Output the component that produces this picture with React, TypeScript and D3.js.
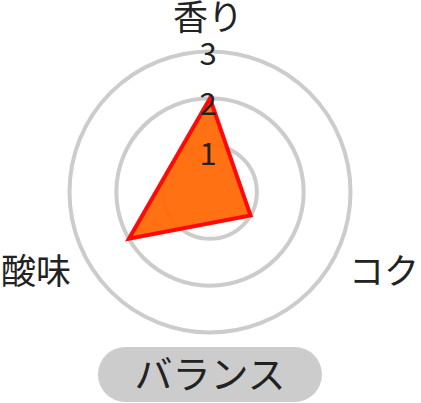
import React from 'react';
import * as d3 from 'd3';

// radar axes (clockwise from top) and their scores
const axes = ['香り', 'コク', '酸味'];
const scores = [2, 1, 2];
const ticks = [1, 2, 3];
const tabLabel = 'バランス';

const W = 421;
const H = 403;
const cx = 210;
const cy = 192;
const FONT = '"Noto Sans CJK JP", "Noto Sans", sans-serif';

const App: React.FC = () => {
  const r = d3.scaleLinear().domain([0, 3]).range([0, 140.5]);
  const angle = d3.scaleLinear().domain([0, axes.length]).range([-Math.PI / 2, Math.PI * 1.5]);
  // tick numbers sit a little below each ring top, spaced slightly wider than the rings
  const tickY = d3.scaleLinear().domain([0, 3]).range([cy + 23, cy - 127]);

  const pt = (i: number, v: number): [number, number] => [
    cx + r(v) * Math.cos(angle(i)),
    cy + r(v) * Math.sin(angle(i)),
  ];

  const poly = d3.line()(scores.map((v, i) => pt(i, v))) + 'Z';

  const labelR = 164;

  return (
    <svg width={W} height={H} style={{ position: 'absolute', left: 0, top: 0 }} fontFamily={FONT}>
      <rect width={W} height={H} fill="#fff" />

      {/* rings */}
      {ticks.map(t => (
        <circle key={t} cx={cx} cy={cy} r={r(t)} fill="none" stroke="#cccccc" strokeWidth={4} />
      ))}

      {/* data */}
      <path d={poly} fill="#ff6600" fillOpacity={0.93} stroke="#ff0000" strokeWidth={4} strokeOpacity={0.95} strokeLinejoin="miter" />

      {/* tick labels */}
      {ticks.map(t => (
        <text key={t} x={cx - 2} y={tickY(t)} fontSize={31} textAnchor="middle" fill="#222">
          {t}
        </text>
      ))}

      {/* axis labels */}
      {axes.map((a, i) => {
        const th = angle(i);
        const x = cx + labelR * Math.cos(th);
        const y = cy + labelR * Math.sin(th);
        const c = Math.cos(th);
        const anchor = Math.abs(c) < 0.1 ? 'middle' : c > 0 ? 'start' : 'end';
        const top = Math.sin(th) < -0.9;
        return (
          <text
            key={a}
            x={top ? x - 2 : c > 0 ? x - 3 : x + 3}
            y={top ? y + 2 : y + 10}
            fontSize={35}
            textAnchor={anchor}
            fill="#222"
          >
            {a}
          </text>
        );
      })}

      {/* tab */}
      <rect x={98} y={347} width={224} height={55} rx={27.5} fill="#cccccc" />
      <text x={210} y={388} fontSize={38} textAnchor="middle" fill="#222">
        {tabLabel}
      </text>
    </svg>
  );
};

export default App;
